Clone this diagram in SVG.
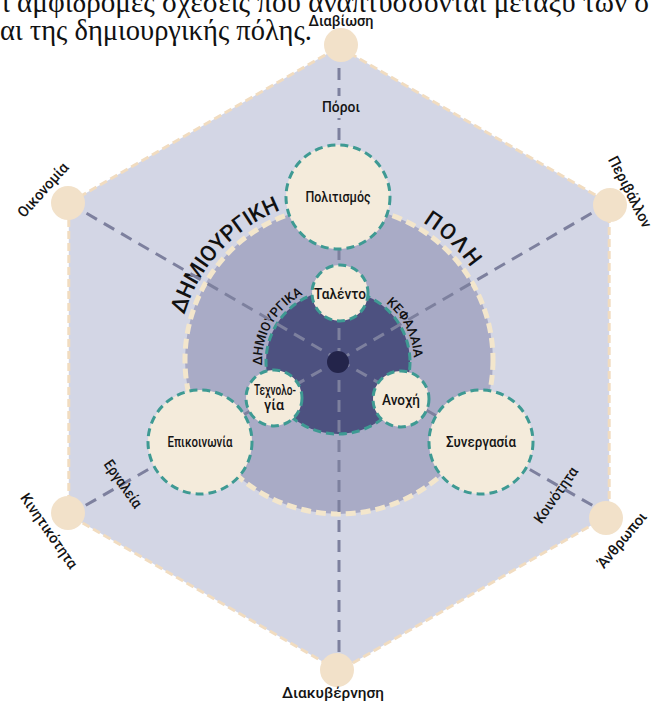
<svg xmlns="http://www.w3.org/2000/svg" width="656" height="704" viewBox="0 0 656 704">
  <style>
    .cap{font-family:"Liberation Serif","DejaVu Serif",serif;font-size:28.5px;fill:#111}
    .lbl{font-family:"Roboto","Liberation Sans",sans-serif;font-size:15px;font-weight:500;fill:#141414;text-anchor:middle}
    .node{fill:#f4ebdb;stroke:#3e9a93;stroke-width:3;stroke-dasharray:8 5}
    .vtx{fill:#f2e1c9}
    .spoke{stroke:#7d809e;stroke-width:3;stroke-dasharray:12 8;fill:none}
    .arc{font-family:"Roboto","Liberation Sans",sans-serif;font-weight:500;fill:#111}
  </style>
  <defs>
    <path id="arcOuterL" d="M178,360 A161,161 0 0 1 325,199.6"/>
    <path id="arcOuterR" d="M330.6,199.2 A161,161 0 0 1 500,360"/>
    <path id="arcInnerL" d="M269.1,394.1 A76,76 0 0 1 331.4,286.3"/>
    <path id="arcInnerR" d="M338,286 A76,76 0 0 1 399.5,406.7"/>
  </defs>

  <!-- caption text above the chart -->
  <text class="cap" x="2" y="12" textLength="648" lengthAdjust="spacingAndGlyphs">ι αμφίδρομες σχέσεις που αναπτύσσονται μεταξύ των σ</text>
  <text class="cap" x="0" y="40">αι της δημιουργικής πόλης.</text>

  <!-- background layers -->
  <g id="hexagon">
    <polygon points="339,47 609.2,203 609.2,515 339,671 68.8,515 68.8,203" fill="#d3d6e5" stroke="#f1dcc0" stroke-width="3" stroke-dasharray="8 4"/>
  </g>
  <g id="city-ring">
    <circle cx="339" cy="360" r="154" fill="#a9abc6" stroke="#f3e6cc" stroke-width="5" stroke-dasharray="10 5"/>
    <text class="arc" font-size="22"><textPath href="#arcOuterL" startOffset="50%" text-anchor="middle">ΔΗΜΙΟΥΡΓΙΚΗ</textPath></text>
    <text class="arc" font-size="22" letter-spacing="2"><textPath href="#arcOuterR" startOffset="50%" text-anchor="middle">ΠΟΛΗ</textPath></text>
  </g>
  <g id="capital-core">
    <circle cx="338" cy="362" r="72" fill="#4d5180" stroke="#3e9a93" stroke-width="3" stroke-dasharray="8 5"/>
    <text class="arc" font-size="13"><textPath href="#arcInnerL" startOffset="50%" text-anchor="middle">ΔΗΜΙΟΥΡΓΙΚΑ</textPath></text>
    <text class="arc" font-size="13"><textPath href="#arcInnerR" startOffset="50%" text-anchor="middle">ΚΕΦΑΛΑΙΑ</textPath></text>
  </g>

  <!-- connectors: spokes from centre to each corner -->
  <g id="connectors">
    <line class="spoke" x1="339" y1="360" x2="339" y2="47"/>
    <line class="spoke" x1="339" y1="360" x2="609.2" y2="203"/>
    <line class="spoke" x1="339" y1="360" x2="609.2" y2="515"/>
    <line class="spoke" x1="339" y1="360" x2="339" y2="671"/>
    <line class="spoke" x1="339" y1="360" x2="68.8" y2="515"/>
    <line class="spoke" x1="339" y1="360" x2="68.8" y2="203"/>
  </g>

  <!-- spoke labels -->
  <g id="spoke-poroi">
    <rect x="318" y="96" width="46" height="22" fill="#d3d6e5"/>
    <text class="lbl" x="341" y="112" font-size="14" textLength="38" lengthAdjust="spacingAndGlyphs">Πόροι</text>
  </g>
  <g id="spoke-ergaleia">
    <text class="lbl" transform="translate(123,484) rotate(55)" y="5" textLength="55" lengthAdjust="spacingAndGlyphs">Εργαλεία</text>
  </g>
  <g id="spoke-koinotita">
    <text class="lbl" transform="translate(556,495) rotate(-55)" y="5" textLength="65" lengthAdjust="spacingAndGlyphs">Κοινότητα</text>
  </g>

  <!-- corner nodes -->
  <g id="v-diaviosi">
    <circle class="vtx" cx="341" cy="45" r="17"/>
    <text class="lbl" x="341" y="26" font-size="16" textLength="65" lengthAdjust="spacingAndGlyphs">Διαβίωση</text>
  </g>
  <g id="v-perivallon">
    <circle class="vtx" cx="610" cy="205" r="17"/>
    <text class="lbl" transform="translate(630,192) rotate(63)" y="5" textLength="78" lengthAdjust="spacingAndGlyphs">Περιβάλλον</text>
  </g>
  <g id="v-anthropoi">
    <circle class="vtx" cx="606" cy="518" r="17"/>
    <text class="lbl" transform="translate(622,540) rotate(-50)" y="5" textLength="68" lengthAdjust="spacingAndGlyphs">Άνθρωποι</text>
  </g>
  <g id="v-diakyvernisi">
    <circle class="vtx" cx="337" cy="670" r="17"/>
    <text class="lbl" x="333" y="698" font-size="17" textLength="102" lengthAdjust="spacingAndGlyphs">Διακυβέρνηση</text>
  </g>
  <g id="v-kinitikotita">
    <circle class="vtx" cx="68" cy="513" r="17"/>
    <text class="lbl" transform="translate(49,531) rotate(55)" y="5" textLength="88" lengthAdjust="spacingAndGlyphs">Κινητικότητα</text>
  </g>
  <g id="v-oikonomia">
    <circle class="vtx" cx="68" cy="203" r="17"/>
    <text class="lbl" transform="translate(43,190) rotate(-48)" y="5" textLength="68" lengthAdjust="spacingAndGlyphs">Οικονομία</text>
  </g>

  <!-- outer ring nodes -->
  <g id="n-politismos">
    <circle class="node" cx="338" cy="197" r="52"/>
    <text class="lbl" x="338" y="202" font-size="14" textLength="65" lengthAdjust="spacingAndGlyphs">Πολιτισμός</text>
  </g>
  <g id="n-epikoinonia">
    <circle class="node" cx="200" cy="442" r="52"/>
    <text class="lbl" x="200" y="447" font-size="14" textLength="65" lengthAdjust="spacingAndGlyphs">Επικοινωνία</text>
  </g>
  <g id="n-synergasia">
    <circle class="node" cx="481" cy="442" r="52"/>
    <text class="lbl" x="481" y="447" font-size="14" textLength="70" lengthAdjust="spacingAndGlyphs">Συνεργασία</text>
  </g>

  <!-- inner ring nodes -->
  <g id="n-talento">
    <circle class="node" cx="340" cy="293" r="28"/>
    <text class="lbl" x="340" y="299" font-size="16" textLength="52" lengthAdjust="spacingAndGlyphs">Ταλέντο</text>
  </g>
  <g id="n-technologia">
    <circle class="node" cx="274" cy="398" r="28"/>
    <text class="lbl" x="275" y="395" font-size="13" textLength="42" lengthAdjust="spacingAndGlyphs">Τεχνολο-</text>
    <text class="lbl" x="274" y="410" font-size="13" textLength="20" lengthAdjust="spacingAndGlyphs">γία</text>
  </g>
  <g id="n-anochi">
    <circle class="node" cx="401" cy="399" r="28"/>
    <text class="lbl" x="401" y="405" font-size="16" textLength="38" lengthAdjust="spacingAndGlyphs">Ανοχή</text>
  </g>

  <!-- centre hub -->
  <g id="hub">
    <circle cx="338" cy="362" r="11" fill="#23244a"/>
  </g>
</svg>
